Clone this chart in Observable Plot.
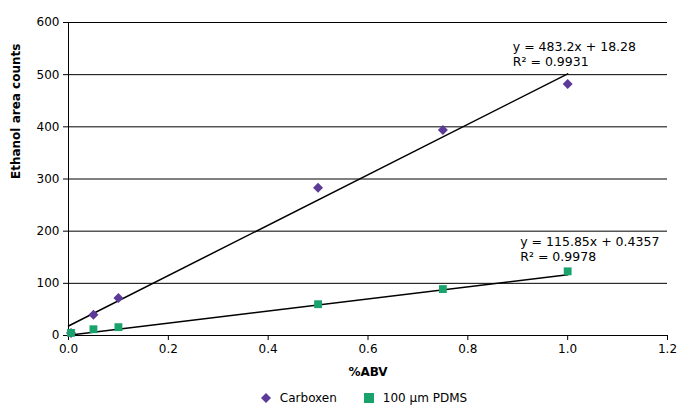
<!DOCTYPE html>
<html><head><meta charset="utf-8">
<script src="https://cdn.jsdelivr.net/npm/d3@7"></script>
<script src="https://cdn.jsdelivr.net/npm/@observablehq/plot@0.6"></script>
<style>
body{margin:0;background:#fff;font-family:"DejaVu Sans",sans-serif;}
#chart svg{display:block;}
#legend{display:flex;justify-content:center;gap:26px;font-size:12px;margin-left:40px;margin-top:6px;}
#legend span{display:flex;align-items:center;gap:8px;}
</style></head><body>
<div id="chart"></div>
<div id="legend">
 <span><svg width="12" height="12"><path d="M6 1L11 6L6 11L1 6Z" fill="#5b3a98"/></svg>Carboxen</span>
 <span><svg width="12" height="12"><rect x="1" y="1" width="10" height="10" fill="#1aa26c"/></svg>100 µm PDMS</span>
</div>
<script>
const abv = [0.005, 0.05, 0.1, 0.5, 0.75, 1.0];
const carboxen = [5, 40, 72, 283, 394, 482];
const pdms = [5, 12, 16, 60, 89, 123];
const fitC = {m: 483.2, b: 18.28, label: "y = 483.2x + 18.28\nR² = 0.9931"};
const fitP = {m: 115.85, b: 0.4357, label: "y = 115.85x + 0.4357\nR² = 0.9978"};

const cData = abv.map((x, i) => ({x, y: carboxen[i]}));
const pData = abv.map((x, i) => ({x, y: pdms[i]}));
const line = f => [0, 1].map(x => ({x, y: f.m * x + f.b}));

const chart = Plot.plot({
  width: 687, height: 385,
  marginLeft: 68, marginRight: 20, marginTop: 22, marginBottom: 50,
  style: {fontFamily: "DejaVu Sans", fontSize: "12px", color: "#000"},
  x: {domain: [0, 1.2], ticks: d3.range(0, 1.21, 0.2), tickFormat: d => d3.format(".1~f")(d), label: null},
  y: {domain: [0, 600], ticks: d3.range(0, 601, 100), label: null},
  marks: [
    Plot.gridY(d3.range(100, 601, 100), {stroke: "#000", strokeOpacity: 1}),
    Plot.ruleX([0], {stroke: "#000"}),
    Plot.ruleY([0], {stroke: "#000"}),
    Plot.axisX({tickSize: 5, tickPadding: 4, fontSize: 12}),
    Plot.axisY({ticks: d3.range(0, 601, 100), tickSize: 5, tickPadding: 4, fontSize: 12}),
    Plot.line(line(fitC), {x: "x", y: "y", stroke: "#000", strokeWidth: 1.5}),
    Plot.line(line(fitP), {x: "x", y: "y", stroke: "#000", strokeWidth: 1.5}),
    Plot.dot(cData, {x: "x", y: "y", symbol: "diamond2", r: 4.5, fill: "#5b3a98"}),
    Plot.dot(pData, {x: "x", y: "y", symbol: "square2", r: 5, fill: "#1aa26c"}),
    Plot.text([fitC], {x: () => 0.89, y: () => 565, text: "label", textAnchor: "start", lineAnchor: "top", fontSize: 12.5, lineHeight: 1.2}),
    Plot.text([fitP], {x: () => 0.905, y: () => 192, text: "label", textAnchor: "start", lineAnchor: "top", fontSize: 12.5, lineHeight: 1.2}),
    Plot.text(["%ABV"], {frameAnchor: "bottom", dy: 40, fontWeight: "bold", fontSize: 12}),
    Plot.text(["Ethanol area counts"], {frameAnchor: "left", dx: -52, rotate: -90, fontWeight: "bold", fontSize: 12})
  ]
});
document.getElementById("chart").append(chart);
</script></body></html>
